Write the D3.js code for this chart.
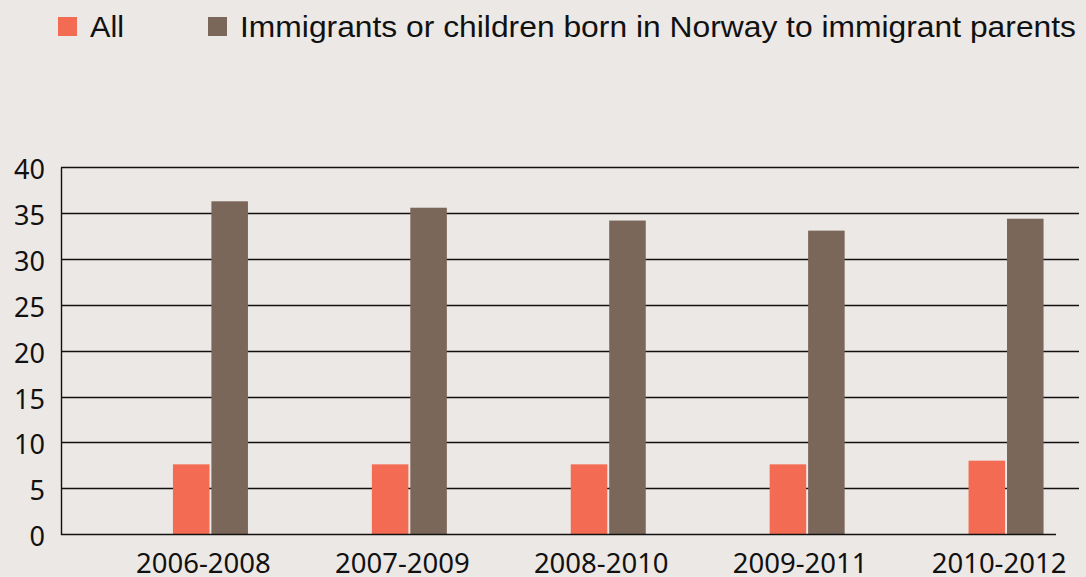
<!DOCTYPE html>
<html><head><meta charset="utf-8">
<script src="https://cdn.jsdelivr.net/npm/d3@7"></script>
<style>
html,body{margin:0;padding:0;background:#ECE8E5;}
svg{display:block;}
</style></head><body>
<svg id="c" width="1086" height="577"></svg>
<script>
const categories = ["2006-2008","2007-2009","2008-2010","2009-2011","2010-2012"];
const seriesNames = ["All","Immigrants or children born in Norway to immigrant parents"];
const allValues = [7.6, 7.6, 7.6, 7.6, 8.0];
const immigrantValues = [36.3, 35.6, 34.2, 33.1, 34.4];
const yTicks = [0,5,10,15,20,25,30,35,40];
const colors = ["#F36B53","#7A6759"];

const svg = d3.select("#c");
const W = 1086, H = 577;
svg.append("rect").attr("width",W).attr("height",H).attr("fill","#ECE8E5");

const plotLeft = 61, plotRight = 1079, y0 = 534, yTop = 167.4;
const y = d3.scaleLinear().domain([0,40]).range([y0,yTop]);
const x = d3.scaleBand().domain(categories).range([111,1105.5]).paddingInner(0).paddingOuter(0);
const xs = d3.scaleBand().domain([0,1]).range([-37.5,37.5]).paddingInner(0.05);

// gridlines
svg.append("g").selectAll("line").data(yTicks.filter(d=>d>0)).join("line")
  .attr("x1",plotLeft).attr("x2",plotRight)
  .attr("y1",d=>Math.round(y(d))+0.5).attr("y2",d=>Math.round(y(d))+0.5)
  .attr("stroke","#111").attr("stroke-width",1.4);

// y tick labels
svg.append("g").selectAll("text").data(yTicks).join("text")
  .attr("x",45).attr("y",d=>y(d)+12)
  .attr("text-anchor","end")
  .attr("font-family","'Noto Sans', 'Open Sans', sans-serif")
  .attr("font-size",27).attr("fill","#111")
  .text(d=>d);

// bars
const data = categories.map((c,i)=>({c, v:[allValues[i], immigrantValues[i]]}));
const g = svg.append("g").selectAll("g").data(data).join("g")
  .attr("transform",d=>`translate(${x(d.c)+x.bandwidth()/2},0)`);
g.selectAll("rect").data(d=>d.v.map((v,k)=>({v,k}))).join("rect")
  .attr("x",d=>xs(d.k)).attr("width",xs.bandwidth())
  .attr("y",d=>y(d.v)).attr("height",d=>y0-y(d.v))
  .attr("fill",d=>colors[d.k]);

// axes lines
svg.append("line").attr("x1",plotLeft+0.5).attr("x2",plotLeft+0.5).attr("y1",yTop).attr("y2",y0+1)
  .attr("stroke","#111").attr("stroke-width",1.4);
svg.append("line").attr("x1",plotLeft).attr("x2",1056).attr("y1",y0+0.5).attr("y2",y0+0.5)
  .attr("stroke","#111").attr("stroke-width",1.6);

// x labels
svg.append("g").selectAll("text").data(categories).join("text")
  .attr("x",d=>x(d)+x.bandwidth()/2-7).attr("y",573)
  .attr("text-anchor","middle")
  .attr("font-family","'Noto Sans', 'Open Sans', sans-serif")
  .attr("font-size",27.5).attr("fill","#111")
  .text(d=>d);

// legend
const legX = [58, 208];
const legW = [34, 836];
const lg = svg.append("g").selectAll("g").data(seriesNames).join("g")
  .attr("transform",(d,i)=>`translate(${legX[i]},17)`);
lg.append("rect").attr("width",19).attr("height",19).attr("fill",(d,i)=>colors[i]);
lg.append("text").attr("x",32).attr("y",20)
  .attr("font-family","'Liberation Sans', Arial, sans-serif")
  .attr("font-size",30).attr("fill","#111")
  .attr("textLength",(d,i)=>legW[i]).attr("lengthAdjust","spacingAndGlyphs")
  .text(d=>d);
</script>
</body></html>
